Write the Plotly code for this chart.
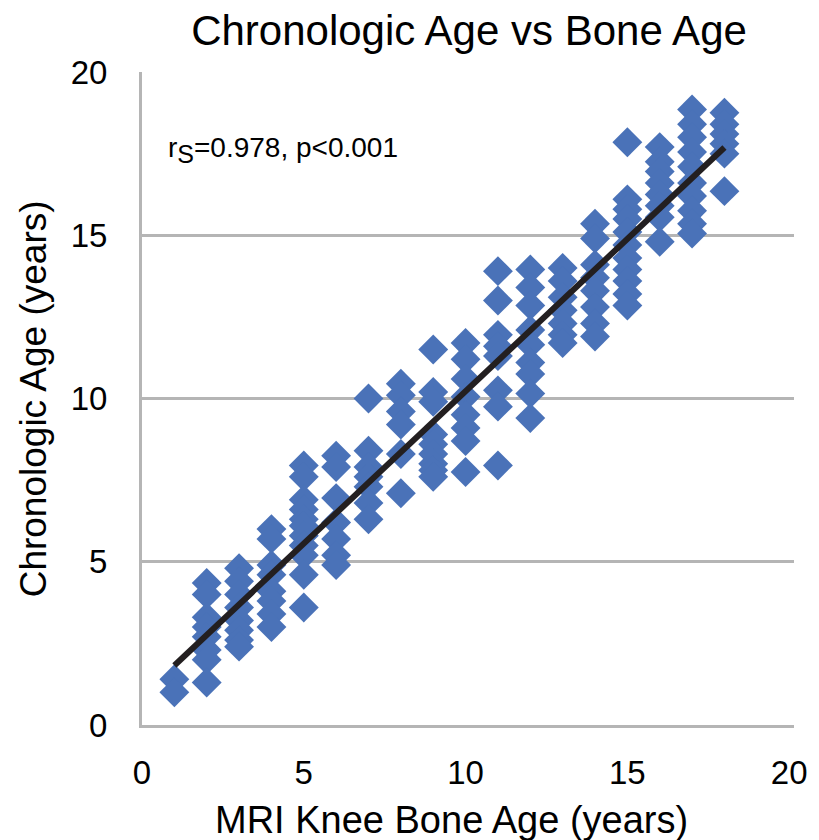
import numpy as np
import plotly.graph_objects as go

# MRI knee bone age groups (years) and the chronologic ages observed in each group
bone_age_groups = list(range(1, 19))
chrono_by_group = [
    [1.4, 1.0],
    [4.35, 4.0, 3.3, 3.0, 2.7, 2.3, 2.0, 1.3],
    [4.8, 4.4, 4.0, 3.6, 3.2, 2.9, 2.6, 2.4],
    [6.0, 5.7, 4.9, 4.6, 4.1, 3.8, 3.4, 3.0],
    [7.95, 7.6, 6.9, 6.6, 6.3, 6.1, 5.8, 5.5, 5.2, 4.6, 3.6],
    [8.25, 7.9, 6.95, 6.2, 5.7, 5.2, 4.9],
    [10.0, 8.4, 7.9, 7.6, 7.3, 6.8, 6.3],
    [10.45, 10.1, 9.6, 9.2, 8.3, 7.1],
    [11.5, 10.2, 9.9, 8.9, 8.6, 8.3, 8.0, 7.8, 7.6],
    [11.7, 11.2, 10.6, 10.05, 9.5, 9.1, 8.7, 7.75],
    [13.9, 13.0, 11.95, 11.6, 11.3, 10.25, 9.75, 7.95],
    [13.95, 13.4, 12.85, 12.1, 11.65, 11.1, 10.75, 10.15, 9.4],
    [14.0, 13.6, 13.1, 12.7, 12.3, 11.95, 11.7],
    [15.35, 14.9, 14.1, 13.7, 13.3, 12.8, 12.3, 11.9],
    [17.85, 16.1, 15.8, 15.5, 15.1, 14.7, 14.3, 13.95, 13.6, 13.2, 12.85],
    [17.7, 17.25, 16.95, 16.6, 16.25, 15.9, 15.55, 14.8],
    [18.85, 18.4, 18.0, 17.55, 17.1, 16.6, 16.2, 15.75, 15.35, 15.05],
    [18.75, 18.4, 18.1, 17.8, 17.5, 16.35],
]
axis_ticks = [0, 5, 10, 15, 20]
stat_text = 'r<sub><span style="font-size:25px">S</span></sub>=0.978, p<0.001'

bone_age = []
chrono_age = []
for age, group in zip(bone_age_groups, chrono_by_group):
    bone_age.extend([age] * len(group))
    chrono_age.extend(group)
bone_age = np.array(bone_age, dtype=float)
chrono_age = np.array(chrono_age, dtype=float)

# least-squares trend line across the observed bone-age span
slope, intercept = np.polyfit(bone_age, chrono_age, 1)
fit_x = np.array([bone_age.min(), bone_age.max()])
fit_y = slope * fit_x + intercept

FONT = "Liberation Sans, Arial, Helvetica, sans-serif"
GRID = "#b5b5b5"

fig = go.Figure()
fig.add_trace(go.Scatter(
    x=bone_age, y=chrono_age, mode="markers",
    marker=dict(symbol="diamond", size=23, color="#4a72b8", line=dict(width=0)),
    showlegend=False, hoverinfo="x+y",
))
fig.add_trace(go.Scatter(
    x=fit_x, y=fit_y, mode="lines",
    line=dict(color="#231f20", width=6),
    showlegend=False, hoverinfo="skip",
))

fig.update_layout(
    width=819, height=840,
    margin=dict(l=142, r=14, t=72, b=115),
    paper_bgcolor="white", plot_bgcolor="white",
    font=dict(family=FONT, color="black"),
    title=dict(
        text="Chronologic Age vs Bone Age",
        font=dict(size=42, family=FONT, color="black"),
        xref="container", x=469 / 819, xanchor="center",
        yref="container", y=1 - 30 / 840, yanchor="middle",
    ),
    xaxis=dict(
        range=[0, 20.15], tickvals=axis_ticks, showgrid=False, zeroline=False,
        showline=True, linecolor=GRID, linewidth=3, ticks="",
        tickfont=dict(size=33, family=FONT, color="black"),
        ticklabelstandoff=16,
    ),
    yaxis=dict(
        range=[0, 20], tickvals=axis_ticks, showgrid=True, gridcolor=GRID, gridwidth=3,
        zeroline=False, showline=True, linecolor=GRID, linewidth=3, ticks="",
        tickfont=dict(size=33, family=FONT, color="black"),
        ticklabelstandoff=25,
    ),
    annotations=[
        dict(text="MRI Knee Bone Age (years)", xref="paper", yref="paper",
             x=(457 - 142) / (805 - 142), y=-(820 - 725) / (725 - 72),
             xanchor="center", yanchor="middle", showarrow=False,
             font=dict(size=38, family=FONT, color="black")),
        dict(text="Chronologic Age (years)", xref="paper", yref="paper",
             x=-(142 - 32) / (805 - 142), y=0.5, textangle=-90,
             xanchor="center", yanchor="middle", showarrow=False,
             font=dict(size=37, family=FONT, color="black")),
        dict(text=stat_text, xref="paper", yref="paper",
             x=(166 - 142) / (805 - 142), y=(725 - 150) / (725 - 72),
             xanchor="left", yanchor="middle", showarrow=False,
             font=dict(size=28, family=FONT, color="black")),
    ],
)

fig.write_html("out.html")
